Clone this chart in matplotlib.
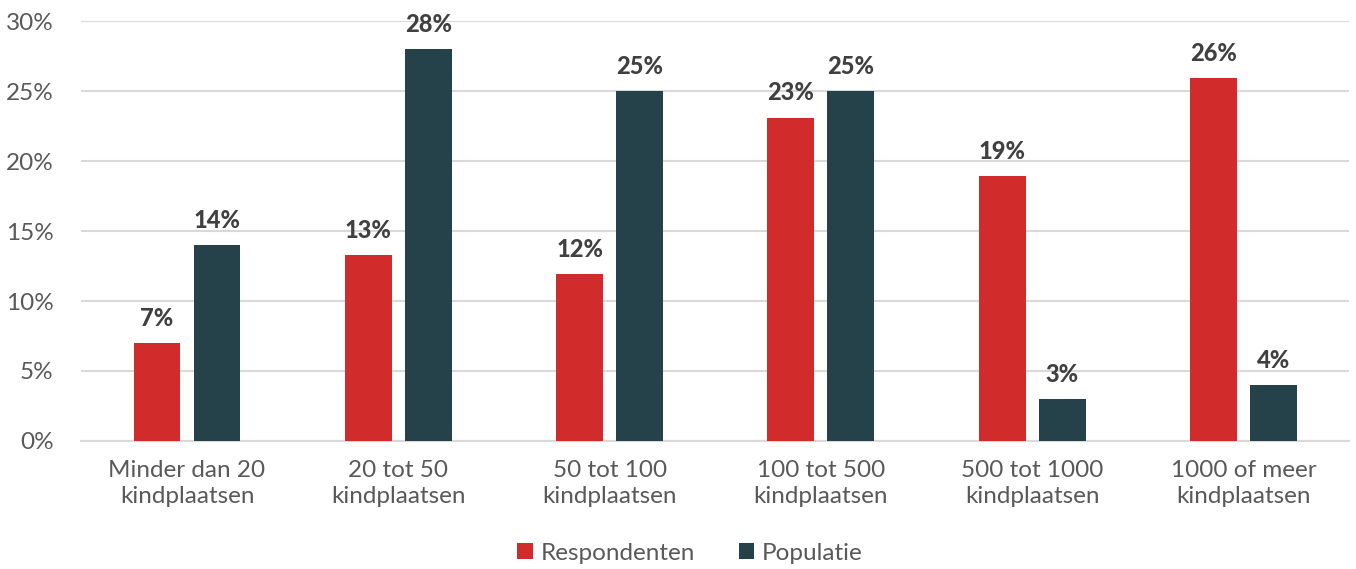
import matplotlib.pyplot as plt
import numpy as np

categories = ['Minder dan 20\nkindplaatsen', '20 tot 50\nkindplaatsen', '50 tot 100\nkindplaatsen',
              '100 tot 500\nkindplaatsen', '500 tot 1000\nkindplaatsen', '1000 of meer\nkindplaatsen']
respondenten = [7.0, 13.3, 11.9, 23.1, 18.9, 25.9]
populatie = [14, 28, 25, 25, 3, 4]
resp_labels = ['7%', '13%', '12%', '23%', '19%', '26%']
pop_labels = ['14%', '28%', '25%', '25%', '3%', '4%']

plt.rcParams['font.family'] = ['Lato', 'DejaVu Sans']

red = '#d22b2b'
dark = '#25424a'
grey = '#595959'

fig = plt.figure(figsize=(13.56, 5.69), dpi=100)
ax = fig.add_axes([0.06, 0.225, 0.935, 0.738])

x = np.arange(len(categories))
w = 0.222
off = 0.142
b1 = ax.bar(x - off, respondenten, w, color=red, label='Respondenten', zorder=3)
b2 = ax.bar(x + off, populatie, w, color=dark, label='Populatie', zorder=3)

for bars, labs in ((b1, resp_labels), (b2, pop_labels)):
    for b, t in zip(bars, labs):
        ax.text(b.get_x() + b.get_width() / 2, b.get_height() + 0.95, t, ha='center', va='bottom',
                fontsize=17, fontweight='black', color='#404040')

ax.set_xlim(-0.5, len(categories) - 0.5)
ax.set_ylim(0, 30)
ax.set_yticks(np.arange(0, 31, 5))
ax.set_yticklabels([f'{v}%' for v in range(0, 31, 5)])
ax.set_xticks(x)
ax.set_xticklabels(categories, linespacing=1.25)
ax.tick_params(axis='both', length=0, labelsize=17.5, labelcolor=grey)
ax.tick_params(axis='x', pad=14)
ax.tick_params(axis='y', pad=20)
ax.grid(axis='y', color='#d9d9d9', linewidth=1.5, zorder=0)
for s in ['top', 'right', 'left']:
    ax.spines[s].set_visible(False)
ax.spines['bottom'].set_color('#d9d9d9')
ax.spines['bottom'].set_linewidth(1.5)

ax.legend(loc='center', bbox_to_anchor=(0.48, -0.267), ncol=2, frameon=False,
          fontsize=17.5, labelcolor=grey, handlelength=0.65, handleheight=0.65, handletextpad=0.3,
          columnspacing=1.8)

fig.savefig('out.png', dpi=100)
